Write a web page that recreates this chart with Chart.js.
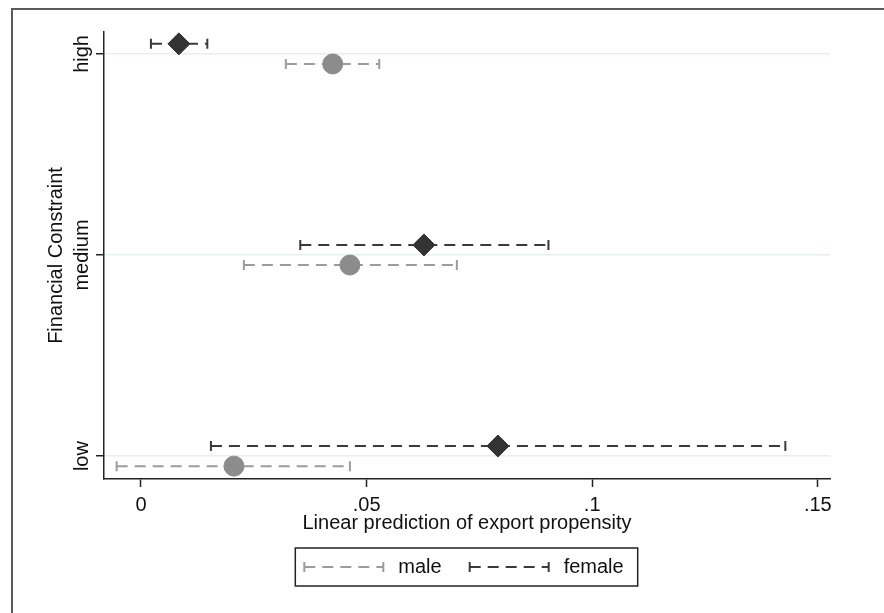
<!DOCTYPE html>
<html><head><meta charset="utf-8">
<script src="https://cdn.jsdelivr.net/npm/chart.js@4.4.1/dist/chart.umd.min.js"></script>
<style>html,body{margin:0;padding:0;background:#fff;}canvas{display:block;}</style>
</head><body>
<canvas id="c" width="884" height="613"></canvas>
<script>
// ---- data ----
const categories = ['low', 'medium', 'high'];
const seriesNames = ['male', 'female'];
const maleEstimate = [0.0206, 0.0463, 0.0425];
const maleLower    = [-0.0054, 0.0228, 0.0321];
const maleUpper    = [0.0463, 0.0700, 0.0528];
const femaleEstimate = [0.0791, 0.0627, 0.0084];
const femaleLower    = [0.0155, 0.0353, 0.0022];
const femaleUpper    = [0.1428, 0.0903, 0.0147];
const xTickValues = [0, 0.05, 0.1, 0.15];
const xTickLabels = ['0', '.05', '.1', '.15'];
const xTitle = 'Linear prediction of export propensity';
const yTitle = 'Financial Constraint';

// ---- styles ----
const FONT = '"Liberation Sans", Arial, Helvetica, sans-serif';
const MALE_POINT = '#8c8c8c', MALE_BAR = '#9c9c9c';
const FEMALE_POINT = '#333333', FEMALE_BAR = '#3a3a3a';
const ROW_OFFSET = 0.05; // vertical separation of the two series within a category
const DASH = [11, 7];
const LEGEND_SHIFT = -6;

function points(est, off) { return est.map((v, i) => ({ x: v, y: i + off })); }

function legendSymbol(color) {
  const c = document.createElement('canvas');
  c.width = 90; c.height = 16;
  const g = c.getContext('2d');
  g.strokeStyle = color; g.lineWidth = 2;
  g.setLineDash(DASH);
  g.beginPath(); g.moveTo(6, 8); g.lineTo(85, 8); g.stroke();
  g.setLineDash([]);
  g.beginPath(); g.moveTo(6, 3); g.lineTo(6, 13); g.moveTo(85, 3); g.lineTo(85, 13); g.stroke();
  return c;
}

const background = {
  id: 'background',
  afterLayout(chart) {
    const lg = chart.legend;
    if (lg) { lg.left += LEGEND_SHIFT; lg.right += LEGEND_SHIFT; }
  },
  beforeDraw(chart) {
    const ctx = chart.ctx;
    ctx.save();
    ctx.fillStyle = '#ffffff';
    ctx.fillRect(0, 0, chart.width, chart.height);
    ctx.strokeStyle = '#5a5a5a'; ctx.lineWidth = 2;
    ctx.strokeRect(12, 9, chart.width + 40, chart.height + 40);
    ctx.restore();
  }
};

const errorBars = {
  id: 'errorBars',
  beforeDatasetsDraw(chart) {
    const { ctx, scales: { x, y } } = chart;
    chart.data.datasets.forEach(ds => {
      ctx.save();
      ctx.strokeStyle = ds.barColor; ctx.lineWidth = 2;
      ds.data.forEach((p, i) => {
        const py = y.getPixelForValue(p.y);
        const x0 = x.getPixelForValue(ds.lower[i]);
        const x1 = x.getPixelForValue(ds.upper[i]);
        ctx.setLineDash(DASH);
        ctx.beginPath(); ctx.moveTo(x0, py); ctx.lineTo(x1, py); ctx.stroke();
        ctx.setLineDash([]);
        ctx.beginPath();
        ctx.moveTo(x0, py - 5); ctx.lineTo(x0, py + 5);
        ctx.moveTo(x1, py - 5); ctx.lineTo(x1, py + 5);
        ctx.stroke();
      });
      ctx.restore();
    });
  }
};

const yLabels = {
  id: 'yLabels',
  afterDraw(chart) {
    const { ctx, scales: { y } } = chart;
    ctx.save();
    ctx.font = '20px ' + FONT; ctx.fillStyle = '#111';
    ctx.textAlign = 'center'; ctx.textBaseline = 'middle';
    categories.forEach((c, i) => {
      const py = y.getPixelForValue(i);
      ctx.save(); ctx.translate(y.right - 22, py); ctx.rotate(-Math.PI / 2);
      ctx.fillText(c, 0, 0); ctx.restore();
    });
    ctx.restore();
  }
};

const legendBox = {
  id: 'legendBox',
  afterDraw(chart) {
    const lg = chart.legend; const hb = lg.legendHitBoxes;
    if (!hb || !hb.length) return;
    const ctx = chart.ctx;
    const left = hb[0].left - 3;
    const last = hb[hb.length - 1];
    const right = last.left + last.width + 14;
    const cy = hb[0].top + hb[0].height / 2;
    ctx.save(); ctx.strokeStyle = '#222'; ctx.lineWidth = 1.5;
    ctx.strokeRect(left, cy - 19, right - left, 38);
    ctx.restore();
  }
};

new Chart(document.getElementById('c'), {
  type: 'scatter',
  data: {
    datasets: [
      { label: seriesNames[0], data: points(maleEstimate, -ROW_OFFSET), lower: maleLower, upper: maleUpper,
        barColor: MALE_BAR, pointStyle: 'circle', pointRadius: 10, backgroundColor: MALE_POINT, borderColor: MALE_POINT, borderWidth: 1, clip: false },
      { label: seriesNames[1], data: points(femaleEstimate, ROW_OFFSET), lower: femaleLower, upper: femaleUpper,
        barColor: FEMALE_BAR, pointStyle: 'rectRot', pointRadius: 11, backgroundColor: FEMALE_POINT, borderColor: FEMALE_POINT, borderWidth: 1, clip: false }
    ]
  },
  options: {
    responsive: false, animation: false, devicePixelRatio: 1,
    layout: { padding: { left: 0, right: 54, top: 32, bottom: 26 } },
    plugins: {
      tooltip: { enabled: false },
      legend: {
        position: 'bottom', fullSize: false,
        labels: {
          usePointStyle: true, pointStyleWidth: 90, padding: 22,
          font: { family: FONT, size: 20 }, color: '#111',
          generateLabels(chart) {
            return chart.data.datasets.map((ds, i) => ({
              text: ds.label, pointStyle: legendSymbol(ds.barColor), datasetIndex: i,
              hidden: false, fontColor: '#111', lineWidth: 0
            }));
          }
        }
      }
    },
    scales: {
      x: {
        type: 'linear', min: -0.0082, max: 0.1527,
        afterBuildTicks(s) { s.ticks = xTickValues.map(v => ({ value: v })); },
        afterFit(s) { s.height = 56; },
        grid: { drawOnChartArea: false, drawTicks: true, tickLength: 8, tickColor: '#222', tickWidth: 1.5 },
        border: { display: true, color: '#222', width: 1.5 },
        ticks: { padding: 6, autoSkip: false, maxRotation: 0, font: { family: FONT, size: 20 }, color: '#111',
          callback: (v, i) => xTickLabels[i] },
        title: { display: true, text: xTitle, font: { family: FONT, size: 20 }, color: '#111', padding: { top: 0, bottom: 0 } }
      },
      y: {
        type: 'linear', min: -0.114, max: 2.109,
        afterBuildTicks(s) { s.ticks = categories.map((c, i) => ({ value: i })); },
        afterFit(s) { s.width = 104; },
        grid: { drawOnChartArea: true, color: '#e6eef0', lineWidth: 1.5, tickLength: 8, tickColor: '#222', tickWidth: 1.5 },
        border: { display: true, color: '#222', width: 1.5 },
        ticks: { display: false },
        title: { display: true, text: yTitle, font: { family: FONT, size: 20 }, color: '#111', padding: { top: 44, bottom: 0 } }
      }
    }
  },
  plugins: [background, errorBars, yLabels, legendBox]
});
</script>
</body></html>
